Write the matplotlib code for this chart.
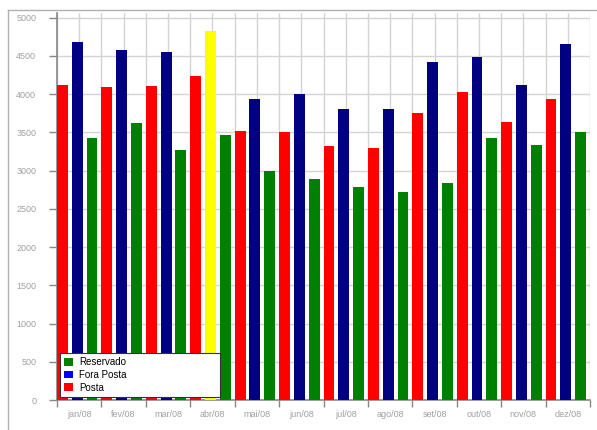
import matplotlib
matplotlib.use("Agg")
import matplotlib.pyplot as plt
from matplotlib.patches import Patch
from matplotlib.lines import Line2D
import numpy as np

plt.rcParams['font.family'] = ['Liberation Sans', 'DejaVu Sans']

months = ["jan/08", "fev/08", "mar/08", "abr/08", "mai/08", "jun/08",
          "jul/08", "ago/08", "set/08", "out/08", "nov/08", "dez/08"]
posta = [4120, 4090, 4110, 4230, 3520, 3510, 3320, 3300, 3750, 4030, 3640, 3940]
fora_posta = [4680, 4570, 4550, 4830, 3940, 4000, 3800, 3800, 4420, 4480, 4120, 4660]
reservado = [3430, 3620, 3270, 3470, 2990, 2890, 2790, 2720, 2840, 3430, 3330, 3510]
highlight_month = "abr/08"

RED = "#ff0000"
NAVY = "#000080"
GREEN = "#008000"
YELLOW = "#ffff00"

fig = plt.figure(figsize=(5.97, 4.30), dpi=100)
ax = fig.add_axes([57 / 597, 30 / 430, 533 / 597, 387 / 430])

x = np.arange(len(months))
slot = 1 / 3
bw = 0.245
blue_colors = [YELLOW if m == highlight_month else NAVY for m in months]

ax.bar(x, posta, width=bw, align='edge', color=RED, zorder=3)
ax.bar(x + slot, fora_posta, width=bw, align='edge', color=blue_colors, zorder=3)
ax.bar(x + 2 * slot, reservado, width=bw, align='edge', color=GREEN, zorder=3)

ax.set_xlim(0, len(months))
ax.set_ylim(0, 5060)

ax.set_xticks(np.arange(len(months) + 1))
ax.set_xticklabels([])
ax.set_xticks(x + 0.5, minor=True)
ax.set_xticklabels(months, minor=True)
ax.tick_params(axis='x', which='major', length=5, color='#888888', width=1)
ax.tick_params(axis='x', which='minor', length=0, labelsize=6.5,
               labelcolor='#a0a0a0', pad=7)

ax.set_yticks(np.arange(0, 5001, 500))
ax.tick_params(axis='y', length=6, color='#888888', width=1,
               labelsize=6.5, labelcolor='#a0a0a0', pad=9)

ax.grid(True, which='both', axis='x', color='#d4d4d4', linewidth=1, zorder=0)
ax.grid(True, which='major', axis='y', color='#d4d4d4', linewidth=1, zorder=0)
ax.set_axisbelow(True)

for side in ('top', 'right'):
    ax.spines[side].set_visible(False)
for side in ('left', 'bottom'):
    ax.spines[side].set_color('#888888')
    ax.spines[side].set_linewidth(1.2)

handles = [Patch(facecolor=GREEN, edgecolor='none', label='Reservado'),
           Patch(facecolor="#0000ff", edgecolor='none', label='Fora Posta'),
           Patch(facecolor=RED, edgecolor='none', label='Posta')]
leg = ax.legend(handles=handles, loc='lower left',
                bbox_to_anchor=(3 / 533, 3 / 387, 160 / 533, 0.1),
                mode='expand', fontsize=7, frameon=True, fancybox=False,
                framealpha=1, edgecolor='#333333', borderpad=0.45,
                labelspacing=0.28, handlelength=0.85, handleheight=0.85,
                handletextpad=0.7, borderaxespad=0)
leg.get_frame().set_linewidth(0.8)
leg.set_zorder(5)

# outer frame lines along the left and top of the figure
fig.add_artist(Line2D([8 / 597, 8 / 597], [0, 1 - 10 / 430],
                      transform=fig.transFigure, color='#b0b0b0', linewidth=1))
fig.add_artist(Line2D([8 / 597, 1], [1 - 10 / 430, 1 - 10 / 430],
                      transform=fig.transFigure, color='#b0b0b0', linewidth=1))

fig.savefig("out.png", dpi=100)
